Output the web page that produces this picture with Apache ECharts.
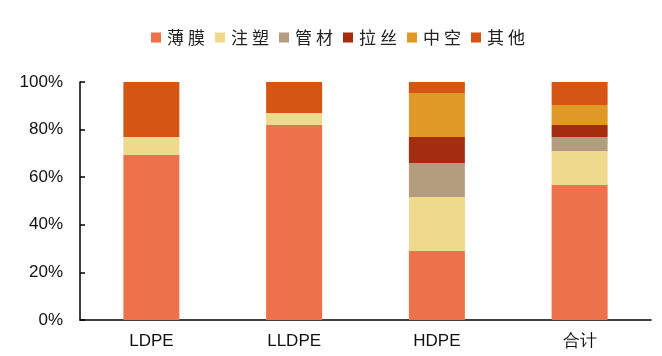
<!DOCTYPE html>
<html><head><meta charset="utf-8">
<script src="https://cdn.jsdelivr.net/npm/echarts@6/dist/echarts.min.js"></script>
<style>html,body{margin:0;padding:0;background:#fff}#c{width:662px;height:356px}</style>
</head><body><div id="c"></div>
<script>
const categories = ['LDPE', 'LLDPE', 'HDPE', '合计'];
const seriesNames = ['薄膜', '注塑', '管材', '拉丝', '中空', '其他'];
const film = [69.3, 81.9, 29.0, 56.7];
const injection = [7.6, 5.1, 22.7, 14.3];
const pipe = [0, 0, 14.3, 5.9];
const drawing = [0, 0, 10.9, 5.0];
const hollow = [0, 0, 18.5, 8.4];
const other = [23.1, 13.0, 4.6, 9.7];
const yTicks = ['0%', '20%', '40%', '60%', '80%', '100%'];

const colors = ['#ED714B', '#EED98D', '#B39D7E', '#A52D0F', '#E09826', '#D55515'];
const values = [film, injection, pipe, drawing, hollow, other];

const chart = echarts.init(document.getElementById('c'));
chart.setOption({
  animation: false,
  color: colors,
  legend: {
    top: 24, left: 146,
    itemWidth: 10, itemHeight: 10, itemGap: 10,
    icon: 'rect',
    formatter: name => name.split('').map((ch, k) => k === 0 ? `{a|${ch}}` : `{b|${ch}}`).join(''),
    textStyle: {fontSize: 17, color: '#222', fontFamily: 'Noto Sans CJK SC',
      rich: {a: {fontSize: 17, color: '#222', padding: [0, 4, 0, 1]}, b: {fontSize: 17, color: '#222'}}},
    data: seriesNames
  },
  grid: {left: 80, right: 11, top: 82, bottom: 36},
  xAxis: {
    type: 'category', data: categories,
    axisLine: {lineStyle: {color: '#000', width: 1.5}},
    axisTick: {inside: true, length: 5, lineStyle: {color: '#000', width: 1.5}},
    axisLabel: {fontSize: 17, color: '#111', margin: 13, fontFamily: 'Liberation Sans'}
  },
  yAxis: {
    type: 'value', min: 0, max: 100, interval: 20,
    splitLine: {show: false},
    axisLine: {show: true, lineStyle: {color: '#000', width: 1.5}},
    axisTick: {show: true, inside: true, length: 5, lineStyle: {color: '#000', width: 1.5}},
    axisLabel: {fontSize: 17, color: '#111', margin: 17, fontFamily: 'Liberation Sans',
      formatter: v => yTicks[Math.round(v / 20)]}
  },
  series: seriesNames.map((name, i) => ({
    name, type: 'bar', stack: 'all', barWidth: 56,
    data: values[i]
  }))
});
</script></body></html>
